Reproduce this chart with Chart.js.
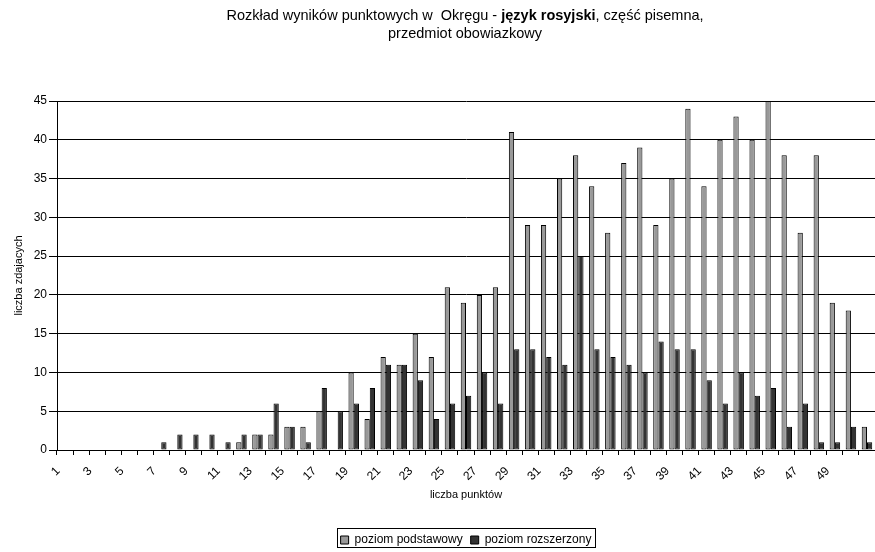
<!DOCTYPE html>
<html lang="pl">
<head>
<meta charset="utf-8">
<title>Rozkład wyników punktowych - język rosyjski</title>
<script src="https://cdn.jsdelivr.net/npm/chart.js@4.4.0/dist/chart.umd.min.js"></script>
<style>
  html, body { margin: 0; padding: 0; background: #fff; }
  #ramka { position: relative; width: 875px; height: 552px; overflow: hidden; background: #fff; }
  #tytul {
    position: absolute; top: 6px; left: 0; width: 930px;
    text-align: center; font: 14.5px Arial, "Liberation Sans", sans-serif;
    line-height: 18px; color: #000; white-space: pre;
  }
  #wykres { position: absolute; left: 0; top: 0; }
</style>
</head>
<body>
<div id="ramka">
  <canvas id="wykres" width="875" height="552"></canvas>
  <div id="tytul">Rozkład wyników punktowych w  Okręgu - <b>język rosyjski</b>, część pisemna,
przedmiot obowiazkowy</div>
</div>
<script>
// Dane
const punkty = ['1', '2', '3', '4', '5', '6', '7', '8', '9', '10',
  '11', '12', '13', '14', '15', '16', '17', '18', '19', '20',
  '21', '22', '23', '24', '25', '26', '27', '28', '29', '30',
  '31', '32', '33', '34', '35', '36', '37', '38', '39', '40',
  '41', '42', '43', '44', '45', '46', '47', '48', '49', '50', '51'];

const poziomPodstawowy = [0, 0, 0, 0, 0, 0, 0, 0, 0, 0,
  0, 1, 2, 2, 3, 3, 5, 0, 10, 4,
  12, 11, 15, 12, 21, 19, 20, 21, 41, 29,
  29, 35, 38, 34, 28, 37, 39, 29, 35, 44,
  34, 40, 43, 40, 45, 38, 28, 38, 19, 18, 3];

const poziomRozszerzony = [0, 0, 0, 0, 0, 0, 1, 2, 2, 2,
  1, 2, 2, 6, 3, 1, 8, 5, 6, 8,
  11, 11, 9, 4, 6, 7, 10, 6, 13, 13,
  12, 11, 25, 13, 12, 11, 10, 14, 13, 13,
  9, 6, 10, 7, 8, 3, 6, 1, 1, 3, 1];

const czcionka = 'Arial, "Liberation Sans", sans-serif';
Chart.defaults.font.family = czcionka;
Chart.defaults.color = '#000';

// Ramka wokół legendy (jak w Excelu)
const ramkaLegendy = {
  id: 'ramkaLegendy',
  afterDraw(chart) {
    const boxes = chart.legend && chart.legend.legendHitBoxes;
    if (!boxes || !boxes.length) return;
    const pierwszy = boxes[0];
    const ostatni = boxes[boxes.length - 1];
    const x1 = Math.round(pierwszy.left - 4) + 0.5;
    const x2 = Math.round(ostatni.left + ostatni.width + 4) + 0.5;
    const y1 = Math.round(pierwszy.top - 6) + 0.5;
    const y2 = Math.round(pierwszy.top + pierwszy.height + 1) + 0.5;
    const ctx = chart.ctx;
    ctx.save();
    ctx.strokeStyle = '#000';
    ctx.lineWidth = 1;
    ctx.strokeRect(x1, y1, x2 - x1, y2 - y1);
    ctx.restore();
  }
};

const ctx = document.getElementById('wykres').getContext('2d');
new Chart(ctx, {
  type: 'bar',
  data: {
    labels: punkty,
    datasets: [
      {
        label: 'poziom podstawowy',
        data: poziomPodstawowy,
        backgroundColor: '#999999',
        borderColor: '#000',
        borderWidth: 1,
        borderSkipped: false
      },
      {
        label: 'poziom rozszerzony',
        data: poziomRozszerzony,
        backgroundColor: '#333333',
        borderColor: '#000',
        borderWidth: 1,
        borderSkipped: false
      }
    ]
  },
  options: {
    responsive: false,
    animation: false,
    devicePixelRatio: 1,
    categoryPercentage: 0.655,
    barPercentage: 1,
    layout: { padding: { top: 101, left: 0, right: -2, bottom: -4 } },
    scales: {
      x: {
        ticks: {
          autoSkip: false,
          maxRotation: 45,
          minRotation: 45,
          padding: 9,
          labelOffset: -7,
          color: '#000',
          font: { size: 12 },
          callback: function(value, index) {
            return index % 2 === 0 && index < 50 ? this.getLabelForValue(value) : '';
          }
        },
        grid: { drawOnChartArea: false, color: '#000', tickLength: 5, offset: true },
        border: { color: '#000' },
        title: {
          display: true,
          text: 'liczba punktów',
          color: '#000',
          font: { size: 11 },
          padding: { top: 0, bottom: 24 }
        },
        afterFit(scale) {
          scale.height = 76;
          scale.paddingLeft = 0;
          scale.paddingRight = 0;
        }
      },
      y: {
        min: 0,
        max: 45,
        ticks: { stepSize: 5, padding: 2, color: '#000', font: { size: 12 } },
        grid: { color: '#000', tickColor: '#000', tickLength: 8 },
        border: { color: '#000' },
        title: {
          display: true,
          text: 'liczba zdajacych',
          color: '#000',
          font: { size: 11 },
          padding: { top: 12, bottom: 0 }
        },
        afterFit(scale) { scale.width = 57; }
      }
    },
    plugins: {
      title: { display: false },
      tooltip: { enabled: false },
      legend: {
        position: 'bottom',
        fullSize: false,
        labels: {
          boxWidth: 8,
          boxHeight: 8,
          padding: 8,
          color: '#000',
          font: { size: 12 }
        }
      }
    }
  },
  plugins: [ramkaLegendy]
});
</script>
</body>
</html>
